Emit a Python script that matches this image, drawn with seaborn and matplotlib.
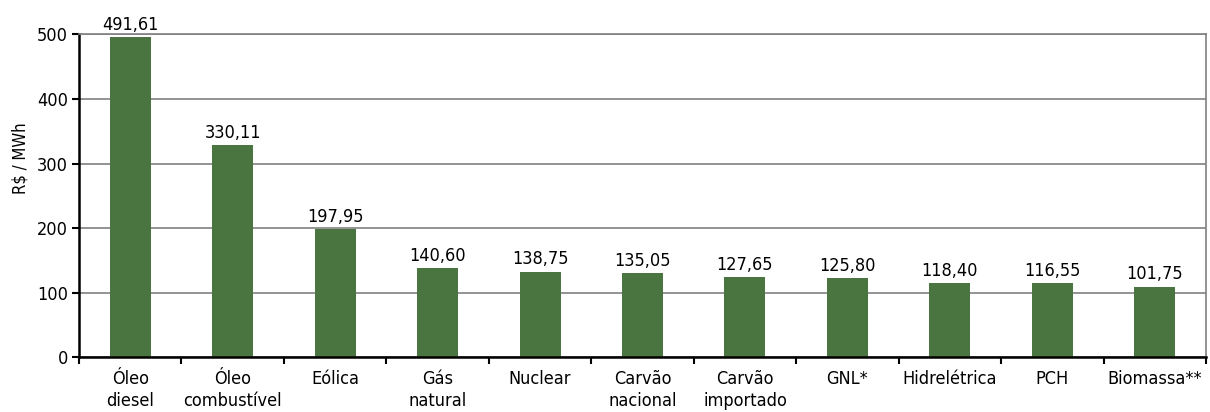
import matplotlib
matplotlib.use("Agg")
import matplotlib.pyplot as plt
import seaborn as sns
import pandas as pd

categories = ["Óleo\ndiesel", "Óleo\ncombustível", "Eólica", "Gás\nnatural", "Nuclear",
              "Carvão\nnacional", "Carvão\nimportado", "GNL*", "Hidrelétrica", "PCH", "Biomassa**"]
# bar heights as drawn in the picture
bar_heights = [496, 329, 198, 138, 133, 131, 124.5, 122.5, 115, 115, 109.5]
# value labels as printed
value_labels = ["491,61", "330,11", "197,95", "140,60", "138,75", "135,05",
                "127,65", "125,80", "118,40", "116,55", "101,75"]
y_ticks = [0, 100, 200, 300, 400, 500]
y_label = "R$ / MWh"

sns.set_theme(style="white")
plt.rcParams["font.family"] = ["DejaVu Sans"]
plt.rcParams["font.stretch"] = "condensed"
plt.rcParams["text.color"] = "black"
plt.rcParams["xtick.color"] = "black"
plt.rcParams["ytick.color"] = "black"
plt.rcParams["axes.labelcolor"] = "black"
FS = 13

df = pd.DataFrame({"cat": categories, "h": bar_heights})

fig = plt.figure(figsize=(12.1, 4.12), dpi=100)
ax = fig.add_axes([0.0653, 0.1323, 0.9314, 0.7845])
sns.barplot(data=df, x="cat", y="h", color="#4a7540", saturation=1, width=0.40, ax=ax)
for p in ax.patches:
    p.set_edgecolor("none")

ax.set_ylim(0, 500)
ax.set_xlim(-0.5, len(categories) - 0.5)
ax.set_yticks(y_ticks)
ax.set_yticklabels([str(t) for t in y_ticks], fontsize=FS, stretch="condensed")
ax.yaxis.grid(True, color="#808080", linewidth=1.2)
ax.set_axisbelow(True)

ax.set_xticks(range(len(categories)))
ax.set_xticklabels(categories, fontsize=FS, linespacing=1.3, va="top", stretch="condensed")
ax.tick_params(axis="x", length=0, pad=9)
ax.set_xticks([i - 0.5 for i in range(len(categories) + 1)], minor=True)
ax.tick_params(axis="x", which="minor", length=5, width=1.5, color="black", direction="out", bottom=True)
ax.tick_params(axis="y", length=5, width=1.5, color="black", direction="out", left=True, pad=3)

ax.set_xlabel("")
ax.set_ylabel(y_label, fontsize=12, stretch="condensed", va="center")
ax.yaxis.set_label_coords(-0.052, 0.617)

for s in ["left", "bottom"]:
    ax.spines[s].set_color("black")
    ax.spines[s].set_linewidth(1.8)
for s in ["right", "top"]:
    ax.spines[s].set_color("#808080")
    ax.spines[s].set_linewidth(1.2)

for i, (h, lab) in enumerate(zip(bar_heights, value_labels)):
    ax.text(i, h + 5, lab, ha="center", va="bottom", fontsize=FS, stretch="condensed", clip_on=False)

fig.savefig("out.png", dpi=100)
